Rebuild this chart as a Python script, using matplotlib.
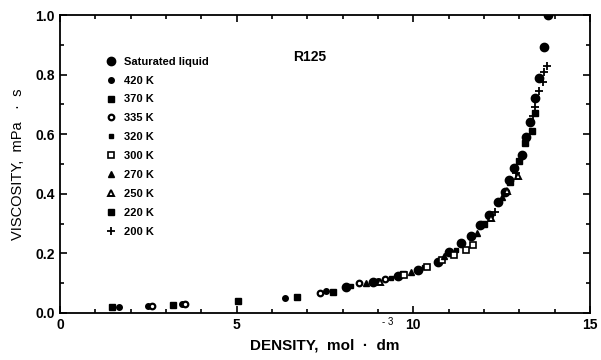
import numpy as np
import matplotlib.pyplot as plt
from matplotlib.ticker import MultipleLocator

plt.rcParams['font.family'] = ['Liberation Sans', 'DejaVu Sans']

# density (mol/dm3), viscosity (mPa s)
sat_rho = [8.1, 8.87, 9.57, 10.14, 10.7, 11.0, 11.36, 11.64, 11.9, 12.15, 12.4,
           12.6, 12.7, 12.85, 13.07, 13.2, 13.3, 13.45, 13.55, 13.7, 13.8]
sat_eta = [0.087, 0.104, 0.124, 0.145, 0.17, 0.205, 0.235, 0.26, 0.295, 0.33, 0.373,
           0.406, 0.446, 0.487, 0.53, 0.59, 0.64, 0.72, 0.79, 0.893, 1.0]

t420_rho = [1.68, 2.5, 3.45, 6.36, 7.54, 9.0]
t420_eta = [0.019, 0.023, 0.03, 0.05, 0.074, 0.108]
t370_rho = [1.48, 3.2, 5.05, 6.7, 7.74, 9.7]
t370_eta = [0.019, 0.027, 0.04, 0.054, 0.07, 0.13]
t335_rho = [2.6, 3.55, 7.35, 8.47, 9.2]
t335_eta = [0.023, 0.03, 0.067, 0.1, 0.113]
t320_rho = [8.25, 9.38, 10.3, 11.2]
t320_eta = [0.09, 0.117, 0.155, 0.21]
t300_rho = [9.75, 10.4, 10.8, 11.15, 11.5, 11.7]
t300_eta = [0.127, 0.155, 0.178, 0.195, 0.212, 0.228]
t270_rho = [8.67, 9.94, 10.88, 11.8, 12.5]
t270_eta = [0.1, 0.137, 0.19, 0.27, 0.39]
t250_rho = [9.05, 12.2, 12.65, 12.95]
t250_eta = [0.105, 0.32, 0.41, 0.46]
t220_rho = [12.0, 12.75, 13.0, 13.15, 13.35, 13.45]
t220_eta = [0.3, 0.44, 0.51, 0.57, 0.61, 0.67]
t200_rho = [12.3, 12.9, 13.38, 13.45, 13.55, 13.66, 13.7, 13.78]
t200_eta = [0.34, 0.47, 0.66, 0.69, 0.745, 0.775, 0.81, 0.83]

fig = plt.figure(figsize=(6.01, 3.6), dpi=100)
ax = fig.add_axes([0.0998, 0.1306, 0.8819, 0.8277])

k = 'k'
ax.plot(sat_rho, sat_eta, 'o', ms=6, color=k, label='Saturated liquid')
ax.plot(t420_rho, t420_eta, 'o', ms=4, color=k, label='420 K')
ax.plot(t370_rho, t370_eta, 's', ms=4, color=k, label='370 K')
ax.plot(t335_rho, t335_eta, 'o', ms=4, mfc='w', mec=k, mew=1.6, label='335 K')
ax.plot(t320_rho, t320_eta, 's', ms=3.5, color=k, label='320 K')
ax.plot(t300_rho, t300_eta, 's', ms=4, mfc='w', mec=k, mew=1.2, label='300 K')
ax.plot(t270_rho, t270_eta, '^', ms=4.5, color=k, label='270 K')
ax.plot(t250_rho, t250_eta, '^', ms=4.5, mfc='w', mec=k, mew=1.4, label='250 K')
ax.plot(t220_rho, t220_eta, 's', ms=4.5, color=k, label='220 K')
ax.plot(t200_rho, t200_eta, '+', ms=5.5, mew=1.3, color=k, label='200 K')

ax.set_xlim(0, 15)
ax.set_ylim(0, 1.0)
ax.xaxis.set_major_locator(MultipleLocator(5))
ax.xaxis.set_minor_locator(MultipleLocator(1))
ax.yaxis.set_major_locator(MultipleLocator(0.2))
ax.yaxis.set_minor_locator(MultipleLocator(0.1))
ax.yaxis.set_major_formatter(plt.FuncFormatter(lambda v, p: f'{v:.1f}'))
ax.xaxis.set_major_formatter(plt.FuncFormatter(lambda v, p: f'{v:.0f}'))
ax.tick_params(which='both', direction='in', top=True, right=True, width=1.2)
ax.tick_params(which='major', length=5, labelsize=10)
ax.tick_params(which='minor', length=3)
for lab in ax.get_xticklabels() + ax.get_yticklabels():
    lab.set_fontweight('bold')
for s in ax.spines.values():
    s.set_linewidth(1.3)

ax.set_xlabel('DENSITY,  mol  \u00b7  dm', fontsize=11, fontweight='bold', labelpad=5)
ax.set_ylabel('VISCOSITY,  mPa   \u00b7  s', fontsize=10.5, labelpad=8)
fig.text(388 / 601, 1 - 322 / 360, '- 3', fontsize=7, ha='center', va='center')

ax.text(0.44, 0.845, 'R125', transform=ax.transAxes, fontsize=10, fontweight='bold')

ax.legend(loc='upper left', bbox_to_anchor=(0.075, 0.875), frameon=False,
          labelspacing=0.8, handletextpad=0.6, handlelength=1.2,
          borderaxespad=0, prop={'weight': 'bold', 'size': 8})

fig.savefig('out.png', dpi=100)
